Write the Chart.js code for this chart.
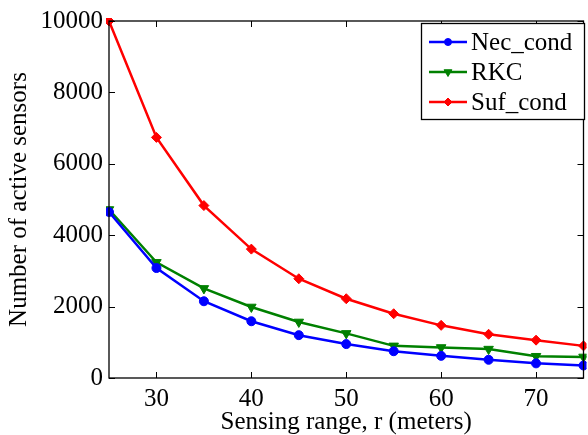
<!DOCTYPE html>
<html><head><meta charset="utf-8">
<script src="https://cdn.jsdelivr.net/npm/chart.js@4/dist/chart.umd.min.js"></script>
<style>html,body{margin:0;padding:0;background:#fff;overflow:hidden;width:588px;height:435px}#wrap{width:590px;height:435px}</style>
</head><body><div id="wrap"><canvas id="c" width="590" height="435"></canvas></div>
<script>
const ranges = [25, 30, 35, 40, 45, 50, 55, 60, 65, 70, 75];
const necCond = [4650, 3080, 2150, 1590, 1200, 950, 750, 620, 510, 410, 350];
const rkc = [4720, 3240, 2510, 1990, 1570, 1250, 900, 855, 810, 610, 590];
const sufCond = [10000, 6740, 4830, 3610, 2780, 2220, 1800, 1475, 1225, 1060, 900];
const xTicks = [30, 40, 50, 60, 70];
const yTicks = [0, 2000, 4000, 6000, 8000, 10000];
const seriesNames = ['Nec_cond', 'RKC', 'Suf_cond'];

const FONT = 'Liberation Serif';
const pts = arr => ranges.map((x, i) => ({x, y: arr[i]}));

const boxPlugin = {
  id: 'box',
  afterDraw(chart) {
    const {ctx, chartArea: a, scales} = chart;
    ctx.save();
    ctx.strokeStyle = '#000';
    ctx.lineWidth = 1.3;
    ctx.strokeRect(a.left, a.top, a.right - a.left, a.bottom - a.top);
    const L = 6;
    ctx.beginPath();
    xTicks.forEach(v => {
      const px = Math.round(scales.x.getPixelForValue(v)) + 0.5;
      ctx.moveTo(px, a.bottom); ctx.lineTo(px, a.bottom - L);
      ctx.moveTo(px, a.top); ctx.lineTo(px, a.top + L);
    });
    yTicks.forEach(v => {
      const py = Math.round(scales.y.getPixelForValue(v)) + 0.5;
      ctx.moveTo(a.left, py); ctx.lineTo(a.left + L, py);
      ctx.moveTo(a.right, py); ctx.lineTo(a.right - L, py);
    });
    ctx.lineWidth = 1;
    ctx.stroke();
    // legend
    const bx = 421.5, by = 23.5, bw = 163, bh = 96;
    ctx.fillStyle = '#fff';
    ctx.fillRect(bx, by, bw, bh);
    ctx.strokeStyle = '#000';
    ctx.lineWidth = 1.3;
    ctx.strokeRect(bx, by, bw, bh);
    ctx.font = '25px "' + FONT + '"';
    ctx.textBaseline = 'middle';
    chart.data.datasets.forEach((ds, i) => {
      const yy = 42 + i * 30;
      ctx.strokeStyle = ds.borderColor;
      ctx.lineWidth = 2.5;
      ctx.beginPath(); ctx.moveTo(429, yy); ctx.lineTo(467, yy); ctx.stroke();
      ctx.fillStyle = ds.borderColor;
      ctx.lineWidth = 1;
      Chart.helpers.drawPoint(ctx, {pointStyle: ds.pointStyle, radius: ds.pointRadius - 1, rotation: ds.pointRotation || 0, borderWidth: 1}, 448, yy);
      ctx.fillStyle = '#000';
      ctx.textAlign = 'left';
      ctx.fillText(ds.label, 471, yy + 1);
    });
    ctx.restore();
  }
};

new Chart(document.getElementById('c'), {
  type: 'line',
  data: {
    datasets: [
      {label: seriesNames[0], data: pts(necCond), borderColor: '#0000ff', pointStyle: 'circle', pointRadius: 4.5, pointRotation: 0},
      {label: seriesNames[1], data: pts(rkc), borderColor: '#008000', pointStyle: 'triangle', pointRadius: 5.5, pointRotation: 180},
      {label: seriesNames[2], data: pts(sufCond), borderColor: '#ff0000', pointStyle: 'rectRot', pointRadius: 5, pointRotation: 0}
    ].map(d => Object.assign(d, {backgroundColor: d.borderColor, borderWidth: 2.5, pointBorderWidth: 1, pointBorderColor: d.borderColor, pointBackgroundColor: d.borderColor, tension: 0, clip: 3}))
  },
  options: {
    responsive: false,
    animation: false,
    events: [],
    layout: {padding: {top: 17, right: 0, left: 0, bottom: 0}},
    plugins: {legend: {display: false}, tooltip: {enabled: false}},
    scales: {
      x: {
        type: 'linear', min: 25, max: 75,
        afterBuildTicks: s => { s.ticks = xTicks.map(v => ({value: v})); },
        afterFit: s => { s.height = 57; },
        grid: {display: false, drawTicks: false},
        border: {display: false},
        ticks: {color: '#000', font: {family: FONT, size: 25}, padding: 6, maxRotation: 0, callback: v => String(v)},
        title: {display: true, text: 'Sensing range, r (meters)', color: '#000', font: {family: FONT, size: 25}, padding: {top: 0, bottom: -2}}
      },
      y: {
        type: 'linear', min: 0, max: 10000,
        afterBuildTicks: s => { s.ticks = yTicks.map(v => ({value: v})); },
        afterFit: s => { s.width = 109; },
        grid: {display: false, drawTicks: false},
        border: {display: false},
        ticks: {color: '#000', font: {family: FONT, size: 25}, padding: 6, callback: v => String(v)},
        title: {display: true, text: 'Number of active sensors', color: '#000', font: {family: FONT, size: 25}, padding: {top: 4, bottom: 0}}
      }
    }
  },
  plugins: [boxPlugin]
});
</script></body></html>
